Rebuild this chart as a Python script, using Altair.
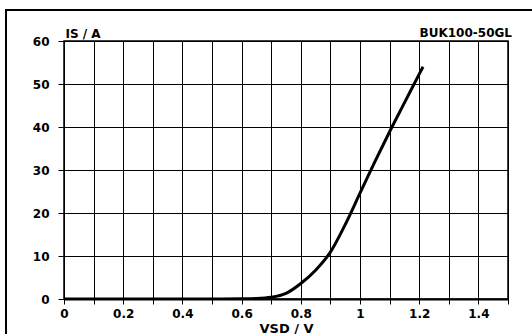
import altair as alt
import pandas as pd

# Curve data: source-drain voltage (V) vs source current (A)
vsd = [0.0, 0.1, 0.2, 0.3, 0.4, 0.5, 0.6, 0.65, 0.7, 0.75, 0.8, 0.85, 0.9,
       0.95, 1.0, 1.05, 1.1, 1.15, 1.2, 1.213]
isd = [0.0, 0.0, 0.0, 0.0, 0.0, 0.0, 0.05, 0.12, 0.4, 1.3, 3.6, 6.7, 10.9,
       17.3, 24.6, 31.9, 38.9, 45.6, 52.3, 54.0]

x_ticks = [0, 0.1, 0.2, 0.3, 0.4, 0.5, 0.6, 0.7, 0.8, 0.9, 1.0, 1.1, 1.2, 1.3, 1.4, 1.5]
y_ticks = [0, 10, 20, 30, 40, 50, 60]

x_title = "VSD / V"
y_title = "IS / A"
device = "BUK100-50GL"

FONT = "DejaVu Sans"

df = pd.DataFrame({"vsd": vsd, "isd": isd})

curve = alt.Chart(df).mark_line(
    color="black", strokeWidth=3, interpolate="monotone", clip=True
).encode(
    x=alt.X("vsd:Q",
            scale=alt.Scale(domain=[0, 1.5], nice=False, zero=False),
            axis=alt.Axis(
                values=x_ticks, format="~g",
                labelExpr="(round(datum.value*10) % 2 == 0) ? datum.label : ''",
                grid=True, gridColor="black", gridOpacity=1, gridWidth=1,
                domainColor="black", domainWidth=2,
                tickColor="black", tickSize=5, tickWidth=1,
                labelFont=FONT, labelFontSize=12, labelFontWeight="bold",
                labelColor="black", labelPadding=4, labelFlush=False,
                title=x_title, titleFont=FONT, titleFontSize=13,
                titleFontWeight="bold", titleColor="black", titlePadding=3,
            )),
    y=alt.Y("isd:Q",
            scale=alt.Scale(domain=[0, 60], nice=False),
            axis=alt.Axis(
                values=y_ticks,
                grid=True, gridColor="black", gridOpacity=1, gridWidth=1,
                domain=False,
                tickColor="black", tickSize=6, tickWidth=1,
                labelFont=FONT, labelFontSize=12, labelFontWeight="bold",
                labelColor="black", labelPadding=9,
                title=y_title, titleAngle=0, titleAlign="left",
                titleBaseline="alphabetic", titleX=1, titleY=-4,
                titleFont=FONT, titleFontSize=12, titleFontWeight="bold",
                titleColor="black",
            )),
)

label_df = pd.DataFrame({"t": [device]})
device_label = alt.Chart(label_df).mark_text(
    font=FONT, fontSize=12, fontWeight="bold", color="black",
    align="right", baseline="alphabetic"
).encode(text="t:N", x=alt.value(448), y=alt.value(-4))

frame_df = pd.DataFrame({"k": [0]})
frame_top = alt.Chart(frame_df).mark_rule(color="black", strokeWidth=2).encode(
    x=alt.value(-59), x2=alt.value(500), y=alt.value(-31))
frame_left = alt.Chart(frame_df).mark_rule(color="black", strokeWidth=2).encode(
    x=alt.value(-58), y=alt.value(-32), y2=alt.value(400))

chart = alt.layer(curve, device_label, frame_top, frame_left).properties(
    width=444, height=258,
    autosize=alt.AutoSizeParams(type="none"),
    padding={"left": 64, "top": 41, "right": 24, "bottom": 35},
    background="white",
).configure_view(stroke="black", strokeWidth=1.5)

chart.save("out.html", embed_options={"renderer": "svg", "actions": False})
